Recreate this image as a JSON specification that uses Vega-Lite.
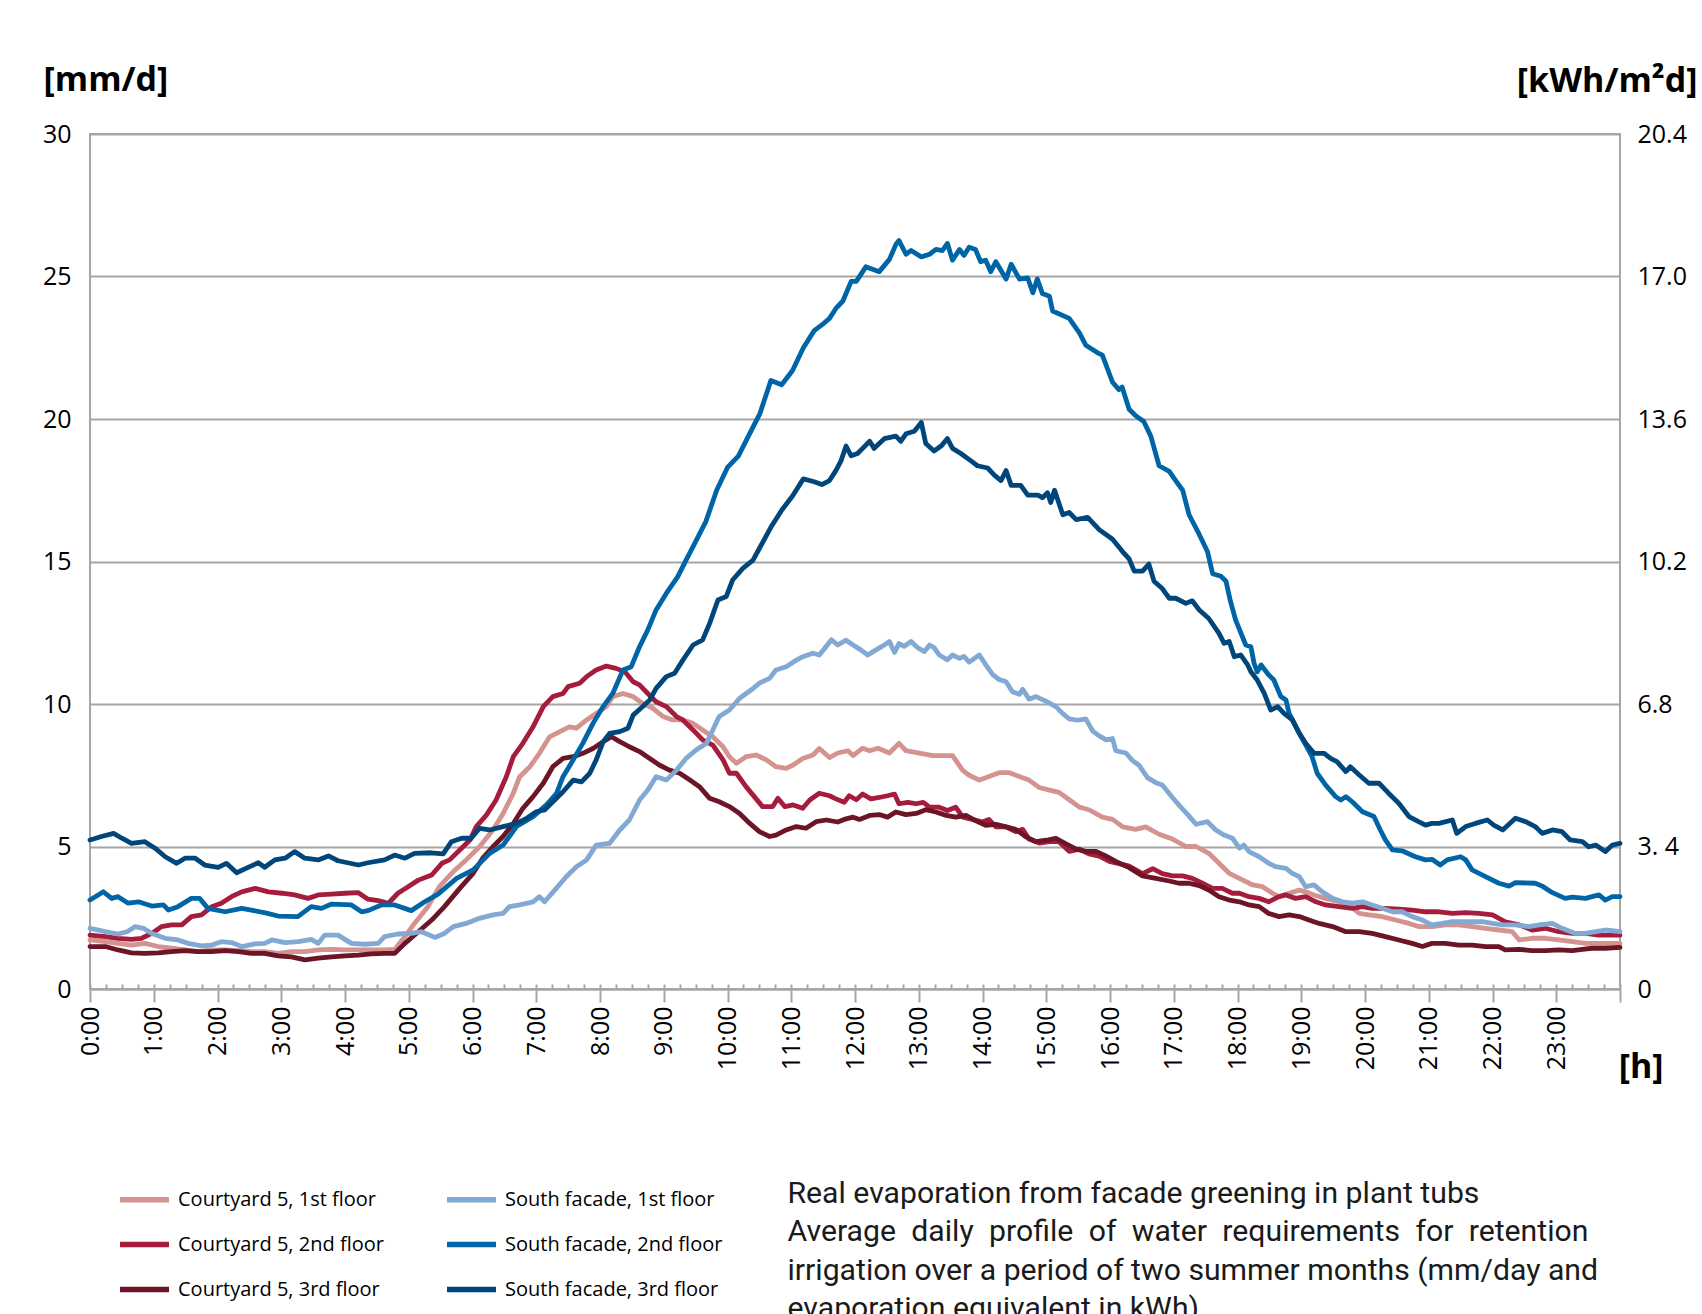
{
"$schema": "https://vega.github.io/schema/vega-lite/v6.json",
"width": 1530, "height": 855,
"autosize": {"type": "none"},
"padding": {"left": 90, "top": 134, "right": 82, "bottom": 325},
"background": "white",
"config": {
  "view": {"stroke": "#a6a6a6", "strokeWidth": 2},
  "axis": {"labelFont": "Open Sans", "labelColor": "#000", "labelFontSize": 25, "titleColor": "#000", "titleFont": "Open Sans", "domainColor": "#a6a6a6", "domainWidth": 2, "tickColor": "#a6a6a6", "tickWidth": 2, "gridColor": "#a6a6a6", "gridWidth": 2}
},
"data": {"values": [
{"s":"C1","t":0,"v":1.72},{"s":"C1","t":0.24,"v":1.66},{"s":"C1","t":0.44,"v":1.6},{"s":"C1","t":0.65,"v":1.54},{"s":"C1","t":0.86,"v":1.6},{"s":"C1","t":1.07,"v":1.49},{"s":"C1","t":1.28,"v":1.43},{"s":"C1","t":1.49,"v":1.37},{"s":"C1","t":1.7,"v":1.31},{"s":"C1","t":1.91,"v":1.37},{"s":"C1","t":2.12,"v":1.37},{"s":"C1","t":2.33,"v":1.35},{"s":"C1","t":2.53,"v":1.31},{"s":"C1","t":2.74,"v":1.31},{"s":"C1","t":2.95,"v":1.25},{"s":"C1","t":3.16,"v":1.31},{"s":"C1","t":3.37,"v":1.31},{"s":"C1","t":3.58,"v":1.37},{"s":"C1","t":3.79,"v":1.39},{"s":"C1","t":4.0,"v":1.37},{"s":"C1","t":4.21,"v":1.37},{"s":"C1","t":4.41,"v":1.37},{"s":"C1","t":4.62,"v":1.37},{"s":"C1","t":4.78,"v":1.39},{"s":"C1","t":4.94,"v":1.84},{"s":"C1","t":5.09,"v":2.3},{"s":"C1","t":5.3,"v":2.89},{"s":"C1","t":5.49,"v":3.62},{"s":"C1","t":5.7,"v":4.12},{"s":"C1","t":5.9,"v":4.53},{"s":"C1","t":6.11,"v":4.99},{"s":"C1","t":6.32,"v":5.58},{"s":"C1","t":6.48,"v":6.16},{"s":"C1","t":6.64,"v":6.87},{"s":"C1","t":6.74,"v":7.45},{"s":"C1","t":6.9,"v":7.8},{"s":"C1","t":7.05,"v":8.27},{"s":"C1","t":7.21,"v":8.85},{"s":"C1","t":7.37,"v":9.03},{"s":"C1","t":7.52,"v":9.2},{"s":"C1","t":7.63,"v":9.15},{"s":"C1","t":7.79,"v":9.44},{"s":"C1","t":7.94,"v":9.67},{"s":"C1","t":8.1,"v":9.91},{"s":"C1","t":8.2,"v":10.26},{"s":"C1","t":8.36,"v":10.37},{"s":"C1","t":8.52,"v":10.26},{"s":"C1","t":8.67,"v":10.02},{"s":"C1","t":8.83,"v":9.85},{"s":"C1","t":8.99,"v":9.56},{"s":"C1","t":9.14,"v":9.44},{"s":"C1","t":9.3,"v":9.44},{"s":"C1","t":9.46,"v":9.32},{"s":"C1","t":9.61,"v":9.09},{"s":"C1","t":9.77,"v":8.85},{"s":"C1","t":9.93,"v":8.5},{"s":"C1","t":10.03,"v":8.15},{"s":"C1","t":10.14,"v":7.92},{"s":"C1","t":10.29,"v":8.15},{"s":"C1","t":10.45,"v":8.21},{"s":"C1","t":10.61,"v":8.04},{"s":"C1","t":10.76,"v":7.8},{"s":"C1","t":10.92,"v":7.74},{"s":"C1","t":11.03,"v":7.86},{"s":"C1","t":11.18,"v":8.09},{"s":"C1","t":11.34,"v":8.21},{"s":"C1","t":11.44,"v":8.44},{"s":"C1","t":11.6,"v":8.12},{"s":"C1","t":11.73,"v":8.28},{"s":"C1","t":11.89,"v":8.36},{"s":"C1","t":11.97,"v":8.19},{"s":"C1","t":12.12,"v":8.45},{"s":"C1","t":12.23,"v":8.36},{"s":"C1","t":12.36,"v":8.45},{"s":"C1","t":12.54,"v":8.28},{"s":"C1","t":12.69,"v":8.62},{"s":"C1","t":12.8,"v":8.36},{"s":"C1","t":13.01,"v":8.28},{"s":"C1","t":13.22,"v":8.19},{"s":"C1","t":13.37,"v":8.19},{"s":"C1","t":13.53,"v":8.19},{"s":"C1","t":13.69,"v":7.67},{"s":"C1","t":13.79,"v":7.5},{"s":"C1","t":13.95,"v":7.33},{"s":"C1","t":14.05,"v":7.41},{"s":"C1","t":14.26,"v":7.59},{"s":"C1","t":14.42,"v":7.59},{"s":"C1","t":14.63,"v":7.41},{"s":"C1","t":14.73,"v":7.33},{"s":"C1","t":14.89,"v":7.07},{"s":"C1","t":15.05,"v":6.98},{"s":"C1","t":15.2,"v":6.9},{"s":"C1","t":15.36,"v":6.64},{"s":"C1","t":15.52,"v":6.38},{"s":"C1","t":15.67,"v":6.29},{"s":"C1","t":15.88,"v":6.03},{"s":"C1","t":16.04,"v":5.95},{"s":"C1","t":16.2,"v":5.69},{"s":"C1","t":16.4,"v":5.6},{"s":"C1","t":16.56,"v":5.69},{"s":"C1","t":16.77,"v":5.43},{"s":"C1","t":16.98,"v":5.26},{"s":"C1","t":17.19,"v":5.0},{"s":"C1","t":17.35,"v":5.0},{"s":"C1","t":17.55,"v":4.76},{"s":"C1","t":17.71,"v":4.41},{"s":"C1","t":17.87,"v":4.06},{"s":"C1","t":18.03,"v":3.88},{"s":"C1","t":18.24,"v":3.65},{"s":"C1","t":18.39,"v":3.59},{"s":"C1","t":18.55,"v":3.36},{"s":"C1","t":18.65,"v":3.24},{"s":"C1","t":18.81,"v":3.36},{"s":"C1","t":18.97,"v":3.47},{"s":"C1","t":19.07,"v":3.41},{"s":"C1","t":19.2,"v":3.3},{"s":"C1","t":19.38,"v":3.18},{"s":"C1","t":19.59,"v":3.06},{"s":"C1","t":19.75,"v":2.95},{"s":"C1","t":19.91,"v":2.65},{"s":"C1","t":20.06,"v":2.6},{"s":"C1","t":20.27,"v":2.54},{"s":"C1","t":20.48,"v":2.42},{"s":"C1","t":20.69,"v":2.3},{"s":"C1","t":20.84,"v":2.19},{"s":"C1","t":21.05,"v":2.19},{"s":"C1","t":21.26,"v":2.25},{"s":"C1","t":21.47,"v":2.25},{"s":"C1","t":21.68,"v":2.19},{"s":"C1","t":21.89,"v":2.13},{"s":"C1","t":22.1,"v":2.07},{"s":"C1","t":22.31,"v":2.01},{"s":"C1","t":22.42,"v":1.72},{"s":"C1","t":22.62,"v":1.78},{"s":"C1","t":22.83,"v":1.78},{"s":"C1","t":23.04,"v":1.72},{"s":"C1","t":23.25,"v":1.66},{"s":"C1","t":23.46,"v":1.6},{"s":"C1","t":23.67,"v":1.6},{"s":"C1","t":24,"v":1.6},
{"s":"C2","t":0,"v":1.89},{"s":"C2","t":0.24,"v":1.84},{"s":"C2","t":0.44,"v":1.78},{"s":"C2","t":0.65,"v":1.74},{"s":"C2","t":0.81,"v":1.78},{"s":"C2","t":0.97,"v":1.95},{"s":"C2","t":1.12,"v":2.19},{"s":"C2","t":1.28,"v":2.25},{"s":"C2","t":1.44,"v":2.25},{"s":"C2","t":1.59,"v":2.54},{"s":"C2","t":1.75,"v":2.6},{"s":"C2","t":1.91,"v":2.89},{"s":"C2","t":2.06,"v":3.01},{"s":"C2","t":2.22,"v":3.24},{"s":"C2","t":2.38,"v":3.41},{"s":"C2","t":2.59,"v":3.53},{"s":"C2","t":2.8,"v":3.41},{"s":"C2","t":3.01,"v":3.36},{"s":"C2","t":3.21,"v":3.3},{"s":"C2","t":3.42,"v":3.18},{"s":"C2","t":3.58,"v":3.3},{"s":"C2","t":3.79,"v":3.33},{"s":"C2","t":4.0,"v":3.36},{"s":"C2","t":4.21,"v":3.38},{"s":"C2","t":4.36,"v":3.15},{"s":"C2","t":4.52,"v":3.1},{"s":"C2","t":4.68,"v":3.01},{"s":"C2","t":4.83,"v":3.36},{"s":"C2","t":4.99,"v":3.59},{"s":"C2","t":5.15,"v":3.82},{"s":"C2","t":5.36,"v":4.0},{"s":"C2","t":5.52,"v":4.41},{"s":"C2","t":5.64,"v":4.53},{"s":"C2","t":5.8,"v":4.88},{"s":"C2","t":5.96,"v":5.23},{"s":"C2","t":6.06,"v":5.7},{"s":"C2","t":6.22,"v":6.11},{"s":"C2","t":6.37,"v":6.63},{"s":"C2","t":6.53,"v":7.45},{"s":"C2","t":6.64,"v":8.15},{"s":"C2","t":6.79,"v":8.62},{"s":"C2","t":6.95,"v":9.2},{"s":"C2","t":7.11,"v":9.91},{"s":"C2","t":7.26,"v":10.26},{"s":"C2","t":7.42,"v":10.37},{"s":"C2","t":7.5,"v":10.61},{"s":"C2","t":7.68,"v":10.73},{"s":"C2","t":7.79,"v":10.96},{"s":"C2","t":7.94,"v":11.19},{"s":"C2","t":8.1,"v":11.33},{"s":"C2","t":8.25,"v":11.25},{"s":"C2","t":8.39,"v":11.13},{"s":"C2","t":8.52,"v":10.78},{"s":"C2","t":8.62,"v":10.67},{"s":"C2","t":8.75,"v":10.37},{"s":"C2","t":8.88,"v":10.08},{"s":"C2","t":9.04,"v":9.91},{"s":"C2","t":9.2,"v":9.56},{"s":"C2","t":9.3,"v":9.44},{"s":"C2","t":9.46,"v":9.09},{"s":"C2","t":9.61,"v":8.74},{"s":"C2","t":9.77,"v":8.56},{"s":"C2","t":9.93,"v":8.04},{"s":"C2","t":10.03,"v":7.57},{"s":"C2","t":10.14,"v":7.57},{"s":"C2","t":10.29,"v":7.1},{"s":"C2","t":10.42,"v":6.75},{"s":"C2","t":10.55,"v":6.4},{"s":"C2","t":10.71,"v":6.4},{"s":"C2","t":10.79,"v":6.69},{"s":"C2","t":10.9,"v":6.4},{"s":"C2","t":11.03,"v":6.46},{"s":"C2","t":11.18,"v":6.34},{"s":"C2","t":11.29,"v":6.63},{"s":"C2","t":11.44,"v":6.87},{"s":"C2","t":11.6,"v":6.78},{"s":"C2","t":11.7,"v":6.67},{"s":"C2","t":11.83,"v":6.55},{"s":"C2","t":11.91,"v":6.78},{"s":"C2","t":12.02,"v":6.64},{"s":"C2","t":12.12,"v":6.84},{"s":"C2","t":12.25,"v":6.67},{"s":"C2","t":12.38,"v":6.72},{"s":"C2","t":12.51,"v":6.78},{"s":"C2","t":12.62,"v":6.84},{"s":"C2","t":12.69,"v":6.5},{"s":"C2","t":12.83,"v":6.55},{"s":"C2","t":12.96,"v":6.5},{"s":"C2","t":13.07,"v":6.55},{"s":"C2","t":13.17,"v":6.38},{"s":"C2","t":13.32,"v":6.38},{"s":"C2","t":13.45,"v":6.26},{"s":"C2","t":13.58,"v":6.38},{"s":"C2","t":13.69,"v":6.03},{"s":"C2","t":13.84,"v":5.95},{"s":"C2","t":14.0,"v":5.86},{"s":"C2","t":14.1,"v":5.95},{"s":"C2","t":14.21,"v":5.69},{"s":"C2","t":14.37,"v":5.69},{"s":"C2","t":14.52,"v":5.52},{"s":"C2","t":14.63,"v":5.6},{"s":"C2","t":14.73,"v":5.26},{"s":"C2","t":14.89,"v":5.12},{"s":"C2","t":15.05,"v":5.17},{"s":"C2","t":15.2,"v":5.17},{"s":"C2","t":15.36,"v":4.83},{"s":"C2","t":15.52,"v":4.91},{"s":"C2","t":15.67,"v":4.74},{"s":"C2","t":15.83,"v":4.66},{"s":"C2","t":15.99,"v":4.48},{"s":"C2","t":16.14,"v":4.4},{"s":"C2","t":16.3,"v":4.31},{"s":"C2","t":16.51,"v":4.05},{"s":"C2","t":16.67,"v":4.22},{"s":"C2","t":16.82,"v":4.05},{"s":"C2","t":16.98,"v":3.97},{"s":"C2","t":17.14,"v":3.97},{"s":"C2","t":17.29,"v":3.88},{"s":"C2","t":17.45,"v":3.71},{"s":"C2","t":17.61,"v":3.53},{"s":"C2","t":17.76,"v":3.53},{"s":"C2","t":17.92,"v":3.36},{"s":"C2","t":18.03,"v":3.36},{"s":"C2","t":18.18,"v":3.24},{"s":"C2","t":18.34,"v":3.18},{"s":"C2","t":18.49,"v":3.06},{"s":"C2","t":18.65,"v":3.24},{"s":"C2","t":18.76,"v":3.3},{"s":"C2","t":18.91,"v":3.18},{"s":"C2","t":19.07,"v":3.24},{"s":"C2","t":19.23,"v":3.06},{"s":"C2","t":19.38,"v":2.95},{"s":"C2","t":19.59,"v":2.89},{"s":"C2","t":19.8,"v":2.83},{"s":"C2","t":19.96,"v":2.89},{"s":"C2","t":20.11,"v":2.83},{"s":"C2","t":20.32,"v":2.83},{"s":"C2","t":20.53,"v":2.8},{"s":"C2","t":20.74,"v":2.77},{"s":"C2","t":20.95,"v":2.71},{"s":"C2","t":21.16,"v":2.71},{"s":"C2","t":21.37,"v":2.65},{"s":"C2","t":21.58,"v":2.68},{"s":"C2","t":21.79,"v":2.65},{"s":"C2","t":22.0,"v":2.6},{"s":"C2","t":22.2,"v":2.36},{"s":"C2","t":22.42,"v":2.25},{"s":"C2","t":22.62,"v":2.07},{"s":"C2","t":22.83,"v":2.13},{"s":"C2","t":23.04,"v":2.01},{"s":"C2","t":23.25,"v":1.95},{"s":"C2","t":23.46,"v":1.95},{"s":"C2","t":23.67,"v":1.89},{"s":"C2","t":24,"v":1.89},
{"s":"C3","t":0,"v":1.49},{"s":"C3","t":0.24,"v":1.49},{"s":"C3","t":0.44,"v":1.37},{"s":"C3","t":0.65,"v":1.27},{"s":"C3","t":0.86,"v":1.25},{"s":"C3","t":1.07,"v":1.27},{"s":"C3","t":1.28,"v":1.31},{"s":"C3","t":1.49,"v":1.35},{"s":"C3","t":1.7,"v":1.31},{"s":"C3","t":1.91,"v":1.31},{"s":"C3","t":2.12,"v":1.35},{"s":"C3","t":2.33,"v":1.31},{"s":"C3","t":2.53,"v":1.25},{"s":"C3","t":2.74,"v":1.25},{"s":"C3","t":2.95,"v":1.16},{"s":"C3","t":3.16,"v":1.13},{"s":"C3","t":3.37,"v":1.02},{"s":"C3","t":3.58,"v":1.08},{"s":"C3","t":3.79,"v":1.13},{"s":"C3","t":4.0,"v":1.16},{"s":"C3","t":4.21,"v":1.19},{"s":"C3","t":4.41,"v":1.23},{"s":"C3","t":4.62,"v":1.25},{"s":"C3","t":4.78,"v":1.25},{"s":"C3","t":4.94,"v":1.6},{"s":"C3","t":5.15,"v":2.01},{"s":"C3","t":5.36,"v":2.42},{"s":"C3","t":5.56,"v":2.89},{"s":"C3","t":5.8,"v":3.53},{"s":"C3","t":6.01,"v":4.06},{"s":"C3","t":6.16,"v":4.59},{"s":"C3","t":6.32,"v":4.99},{"s":"C3","t":6.48,"v":5.35},{"s":"C3","t":6.64,"v":5.81},{"s":"C3","t":6.79,"v":6.34},{"s":"C3","t":6.95,"v":6.75},{"s":"C3","t":7.11,"v":7.22},{"s":"C3","t":7.26,"v":7.8},{"s":"C3","t":7.42,"v":8.09},{"s":"C3","t":7.58,"v":8.15},{"s":"C3","t":7.73,"v":8.27},{"s":"C3","t":7.89,"v":8.44},{"s":"C3","t":8.05,"v":8.68},{"s":"C3","t":8.18,"v":8.85},{"s":"C3","t":8.31,"v":8.68},{"s":"C3","t":8.46,"v":8.5},{"s":"C3","t":8.62,"v":8.33},{"s":"C3","t":8.78,"v":8.09},{"s":"C3","t":8.93,"v":7.86},{"s":"C3","t":9.09,"v":7.68},{"s":"C3","t":9.25,"v":7.57},{"s":"C3","t":9.41,"v":7.33},{"s":"C3","t":9.56,"v":7.1},{"s":"C3","t":9.72,"v":6.69},{"s":"C3","t":9.87,"v":6.57},{"s":"C3","t":10.03,"v":6.4},{"s":"C3","t":10.19,"v":6.16},{"s":"C3","t":10.35,"v":5.81},{"s":"C3","t":10.5,"v":5.52},{"s":"C3","t":10.66,"v":5.35},{"s":"C3","t":10.76,"v":5.4},{"s":"C3","t":10.92,"v":5.58},{"s":"C3","t":11.08,"v":5.7},{"s":"C3","t":11.23,"v":5.64},{"s":"C3","t":11.39,"v":5.87},{"s":"C3","t":11.55,"v":5.93},{"s":"C3","t":11.73,"v":5.86},{"s":"C3","t":11.83,"v":5.95},{"s":"C3","t":11.97,"v":6.03},{"s":"C3","t":12.07,"v":5.95},{"s":"C3","t":12.23,"v":6.09},{"s":"C3","t":12.38,"v":6.12},{"s":"C3","t":12.51,"v":6.03},{"s":"C3","t":12.64,"v":6.21},{"s":"C3","t":12.8,"v":6.12},{"s":"C3","t":12.96,"v":6.16},{"s":"C3","t":13.11,"v":6.29},{"s":"C3","t":13.27,"v":6.21},{"s":"C3","t":13.43,"v":6.09},{"s":"C3","t":13.58,"v":6.03},{"s":"C3","t":13.74,"v":6.09},{"s":"C3","t":13.89,"v":5.91},{"s":"C3","t":14.05,"v":5.74},{"s":"C3","t":14.21,"v":5.78},{"s":"C3","t":14.37,"v":5.69},{"s":"C3","t":14.52,"v":5.6},{"s":"C3","t":14.68,"v":5.34},{"s":"C3","t":14.84,"v":5.17},{"s":"C3","t":15.0,"v":5.22},{"s":"C3","t":15.15,"v":5.29},{"s":"C3","t":15.31,"v":5.09},{"s":"C3","t":15.47,"v":4.91},{"s":"C3","t":15.62,"v":4.83},{"s":"C3","t":15.78,"v":4.83},{"s":"C3","t":15.94,"v":4.66},{"s":"C3","t":16.09,"v":4.48},{"s":"C3","t":16.3,"v":4.26},{"s":"C3","t":16.51,"v":3.97},{"s":"C3","t":16.72,"v":3.88},{"s":"C3","t":16.93,"v":3.79},{"s":"C3","t":17.08,"v":3.71},{"s":"C3","t":17.24,"v":3.71},{"s":"C3","t":17.4,"v":3.63},{"s":"C3","t":17.55,"v":3.47},{"s":"C3","t":17.71,"v":3.24},{"s":"C3","t":17.87,"v":3.12},{"s":"C3","t":18.03,"v":3.06},{"s":"C3","t":18.18,"v":2.95},{"s":"C3","t":18.34,"v":2.89},{"s":"C3","t":18.49,"v":2.65},{"s":"C3","t":18.65,"v":2.54},{"s":"C3","t":18.81,"v":2.6},{"s":"C3","t":18.97,"v":2.54},{"s":"C3","t":19.12,"v":2.42},{"s":"C3","t":19.28,"v":2.3},{"s":"C3","t":19.49,"v":2.19},{"s":"C3","t":19.7,"v":2.01},{"s":"C3","t":19.91,"v":2.01},{"s":"C3","t":20.11,"v":1.95},{"s":"C3","t":20.32,"v":1.84},{"s":"C3","t":20.53,"v":1.72},{"s":"C3","t":20.74,"v":1.6},{"s":"C3","t":20.9,"v":1.49},{"s":"C3","t":21.05,"v":1.6},{"s":"C3","t":21.26,"v":1.6},{"s":"C3","t":21.47,"v":1.54},{"s":"C3","t":21.68,"v":1.54},{"s":"C3","t":21.89,"v":1.49},{"s":"C3","t":22.1,"v":1.49},{"s":"C3","t":22.2,"v":1.37},{"s":"C3","t":22.42,"v":1.39},{"s":"C3","t":22.62,"v":1.35},{"s":"C3","t":22.83,"v":1.35},{"s":"C3","t":23.04,"v":1.37},{"s":"C3","t":23.25,"v":1.35},{"s":"C3","t":23.41,"v":1.39},{"s":"C3","t":23.56,"v":1.43},{"s":"C3","t":23.77,"v":1.43},{"s":"C3","t":24,"v":1.46},
{"s":"S1","t":0,"v":2.13},{"s":"S1","t":0.24,"v":2.01},{"s":"S1","t":0.44,"v":1.93},{"s":"S1","t":0.58,"v":2.01},{"s":"S1","t":0.71,"v":2.19},{"s":"S1","t":0.84,"v":2.13},{"s":"S1","t":0.97,"v":1.95},{"s":"S1","t":1.18,"v":1.78},{"s":"S1","t":1.38,"v":1.72},{"s":"S1","t":1.54,"v":1.6},{"s":"S1","t":1.75,"v":1.51},{"s":"S1","t":1.91,"v":1.54},{"s":"S1","t":2.06,"v":1.66},{"s":"S1","t":2.22,"v":1.63},{"s":"S1","t":2.38,"v":1.49},{"s":"S1","t":2.59,"v":1.58},{"s":"S1","t":2.74,"v":1.6},{"s":"S1","t":2.85,"v":1.72},{"s":"S1","t":3.06,"v":1.63},{"s":"S1","t":3.27,"v":1.66},{"s":"S1","t":3.47,"v":1.74},{"s":"S1","t":3.58,"v":1.6},{"s":"S1","t":3.68,"v":1.89},{"s":"S1","t":3.89,"v":1.89},{"s":"S1","t":4.1,"v":1.6},{"s":"S1","t":4.31,"v":1.57},{"s":"S1","t":4.52,"v":1.6},{"s":"S1","t":4.62,"v":1.84},{"s":"S1","t":4.83,"v":1.93},{"s":"S1","t":5.04,"v":1.95},{"s":"S1","t":5.2,"v":2.01},{"s":"S1","t":5.41,"v":1.81},{"s":"S1","t":5.56,"v":1.95},{"s":"S1","t":5.7,"v":2.19},{"s":"S1","t":5.9,"v":2.3},{"s":"S1","t":6.11,"v":2.48},{"s":"S1","t":6.32,"v":2.6},{"s":"S1","t":6.48,"v":2.65},{"s":"S1","t":6.58,"v":2.89},{"s":"S1","t":6.74,"v":2.95},{"s":"S1","t":6.95,"v":3.06},{"s":"S1","t":7.05,"v":3.24},{"s":"S1","t":7.13,"v":3.06},{"s":"S1","t":7.29,"v":3.47},{"s":"S1","t":7.47,"v":3.94},{"s":"S1","t":7.63,"v":4.29},{"s":"S1","t":7.79,"v":4.53},{"s":"S1","t":7.94,"v":5.05},{"s":"S1","t":8.15,"v":5.11},{"s":"S1","t":8.31,"v":5.58},{"s":"S1","t":8.46,"v":5.93},{"s":"S1","t":8.62,"v":6.63},{"s":"S1","t":8.75,"v":6.98},{"s":"S1","t":8.88,"v":7.45},{"s":"S1","t":9.04,"v":7.33},{"s":"S1","t":9.2,"v":7.68},{"s":"S1","t":9.35,"v":8.09},{"s":"S1","t":9.51,"v":8.39},{"s":"S1","t":9.67,"v":8.62},{"s":"S1","t":9.87,"v":9.56},{"s":"S1","t":10.03,"v":9.79},{"s":"S1","t":10.19,"v":10.2},{"s":"S1","t":10.37,"v":10.49},{"s":"S1","t":10.5,"v":10.73},{"s":"S1","t":10.66,"v":10.9},{"s":"S1","t":10.76,"v":11.19},{"s":"S1","t":10.92,"v":11.31},{"s":"S1","t":11.08,"v":11.54},{"s":"S1","t":11.18,"v":11.66},{"s":"S1","t":11.34,"v":11.78},{"s":"S1","t":11.44,"v":11.72},{"s":"S1","t":11.63,"v":12.25},{"s":"S1","t":11.73,"v":12.07},{"s":"S1","t":11.86,"v":12.24},{"s":"S1","t":11.97,"v":12.07},{"s":"S1","t":12.09,"v":11.9},{"s":"S1","t":12.2,"v":11.72},{"s":"S1","t":12.33,"v":11.9},{"s":"S1","t":12.46,"v":12.07},{"s":"S1","t":12.54,"v":12.19},{"s":"S1","t":12.62,"v":11.81},{"s":"S1","t":12.69,"v":12.12},{"s":"S1","t":12.77,"v":12.02},{"s":"S1","t":12.88,"v":12.19},{"s":"S1","t":12.98,"v":11.98},{"s":"S1","t":13.09,"v":11.84},{"s":"S1","t":13.17,"v":12.07},{"s":"S1","t":13.24,"v":11.98},{"s":"S1","t":13.32,"v":11.72},{"s":"S1","t":13.45,"v":11.55},{"s":"S1","t":13.53,"v":11.72},{"s":"S1","t":13.64,"v":11.6},{"s":"S1","t":13.71,"v":11.67},{"s":"S1","t":13.79,"v":11.47},{"s":"S1","t":13.95,"v":11.72},{"s":"S1","t":14.05,"v":11.38},{"s":"S1","t":14.16,"v":11.03},{"s":"S1","t":14.26,"v":10.86},{"s":"S1","t":14.37,"v":10.78},{"s":"S1","t":14.47,"v":10.43},{"s":"S1","t":14.58,"v":10.34},{"s":"S1","t":14.63,"v":10.52},{"s":"S1","t":14.73,"v":10.17},{"s":"S1","t":14.84,"v":10.26},{"s":"S1","t":15.0,"v":10.09},{"s":"S1","t":15.15,"v":9.91},{"s":"S1","t":15.26,"v":9.66},{"s":"S1","t":15.36,"v":9.48},{"s":"S1","t":15.49,"v":9.43},{"s":"S1","t":15.62,"v":9.48},{"s":"S1","t":15.73,"v":9.05},{"s":"S1","t":15.83,"v":8.88},{"s":"S1","t":15.94,"v":8.74},{"s":"S1","t":16.04,"v":8.79},{"s":"S1","t":16.09,"v":8.36},{"s":"S1","t":16.25,"v":8.28},{"s":"S1","t":16.35,"v":8.02},{"s":"S1","t":16.46,"v":7.84},{"s":"S1","t":16.59,"v":7.41},{"s":"S1","t":16.72,"v":7.24},{"s":"S1","t":16.82,"v":7.16},{"s":"S1","t":16.98,"v":6.72},{"s":"S1","t":17.11,"v":6.38},{"s":"S1","t":17.22,"v":6.12},{"s":"S1","t":17.35,"v":5.78},{"s":"S1","t":17.53,"v":5.87},{"s":"S1","t":17.66,"v":5.58},{"s":"S1","t":17.79,"v":5.4},{"s":"S1","t":17.92,"v":5.29},{"s":"S1","t":18.03,"v":4.94},{"s":"S1","t":18.1,"v":5.05},{"s":"S1","t":18.18,"v":4.82},{"s":"S1","t":18.34,"v":4.64},{"s":"S1","t":18.49,"v":4.41},{"s":"S1","t":18.6,"v":4.29},{"s":"S1","t":18.76,"v":4.23},{"s":"S1","t":18.86,"v":4.06},{"s":"S1","t":18.97,"v":3.94},{"s":"S1","t":19.07,"v":3.59},{"s":"S1","t":19.2,"v":3.65},{"s":"S1","t":19.33,"v":3.41},{"s":"S1","t":19.49,"v":3.18},{"s":"S1","t":19.65,"v":3.06},{"s":"S1","t":19.8,"v":3.01},{"s":"S1","t":19.96,"v":3.06},{"s":"S1","t":20.11,"v":2.95},{"s":"S1","t":20.27,"v":2.83},{"s":"S1","t":20.43,"v":2.71},{"s":"S1","t":20.58,"v":2.71},{"s":"S1","t":20.74,"v":2.54},{"s":"S1","t":20.9,"v":2.42},{"s":"S1","t":21.05,"v":2.25},{"s":"S1","t":21.21,"v":2.3},{"s":"S1","t":21.37,"v":2.36},{"s":"S1","t":21.58,"v":2.36},{"s":"S1","t":21.84,"v":2.36},{"s":"S1","t":22.0,"v":2.3},{"s":"S1","t":22.16,"v":2.25},{"s":"S1","t":22.36,"v":2.25},{"s":"S1","t":22.57,"v":2.19},{"s":"S1","t":22.73,"v":2.25},{"s":"S1","t":22.94,"v":2.3},{"s":"S1","t":23.09,"v":2.13},{"s":"S1","t":23.3,"v":1.95},{"s":"S1","t":23.46,"v":1.95},{"s":"S1","t":23.62,"v":2.01},{"s":"S1","t":23.77,"v":2.07},{"s":"S1","t":24,"v":2.01},
{"s":"S2","t":0,"v":3.12},{"s":"S2","t":0.21,"v":3.41},{"s":"S2","t":0.34,"v":3.18},{"s":"S2","t":0.44,"v":3.24},{"s":"S2","t":0.6,"v":3.01},{"s":"S2","t":0.76,"v":3.06},{"s":"S2","t":0.97,"v":2.91},{"s":"S2","t":1.15,"v":2.95},{"s":"S2","t":1.23,"v":2.77},{"s":"S2","t":1.38,"v":2.89},{"s":"S2","t":1.59,"v":3.18},{"s":"S2","t":1.72,"v":3.18},{"s":"S2","t":1.85,"v":2.83},{"s":"S2","t":2.12,"v":2.71},{"s":"S2","t":2.38,"v":2.83},{"s":"S2","t":2.53,"v":2.77},{"s":"S2","t":2.77,"v":2.66},{"s":"S2","t":2.95,"v":2.56},{"s":"S2","t":3.26,"v":2.54},{"s":"S2","t":3.47,"v":2.89},{"s":"S2","t":3.63,"v":2.83},{"s":"S2","t":3.79,"v":2.98},{"s":"S2","t":4.1,"v":2.95},{"s":"S2","t":4.26,"v":2.71},{"s":"S2","t":4.36,"v":2.75},{"s":"S2","t":4.57,"v":2.95},{"s":"S2","t":4.78,"v":2.95},{"s":"S2","t":5.04,"v":2.75},{"s":"S2","t":5.25,"v":3.06},{"s":"S2","t":5.46,"v":3.33},{"s":"S2","t":5.75,"v":3.88},{"s":"S2","t":6.01,"v":4.18},{"s":"S2","t":6.27,"v":4.76},{"s":"S2","t":6.48,"v":5.05},{"s":"S2","t":6.69,"v":5.7},{"s":"S2","t":6.95,"v":6.05},{"s":"S2","t":7.16,"v":6.46},{"s":"S2","t":7.32,"v":6.87},{"s":"S2","t":7.42,"v":7.45},{"s":"S2","t":7.58,"v":8.04},{"s":"S2","t":7.73,"v":8.62},{"s":"S2","t":7.89,"v":9.32},{"s":"S2","t":8.05,"v":9.91},{"s":"S2","t":8.2,"v":10.37},{"s":"S2","t":8.36,"v":11.19},{"s":"S2","t":8.49,"v":11.31},{"s":"S2","t":8.62,"v":12.01},{"s":"S2","t":8.75,"v":12.6},{"s":"S2","t":8.88,"v":13.3},{"s":"S2","t":9.04,"v":13.88},{"s":"S2","t":9.22,"v":14.47},{"s":"S2","t":9.35,"v":15.05},{"s":"S2","t":9.5,"v":15.7},{"s":"S2","t":9.66,"v":16.4},{"s":"S2","t":9.83,"v":17.5},{"s":"S2","t":10.0,"v":18.3},{"s":"S2","t":10.17,"v":18.7},{"s":"S2","t":10.34,"v":19.45},{"s":"S2","t":10.51,"v":20.2},{"s":"S2","t":10.68,"v":21.35},{"s":"S2","t":10.85,"v":21.2},{"s":"S2","t":11.02,"v":21.7},{"s":"S2","t":11.19,"v":22.5},{"s":"S2","t":11.36,"v":23.1},{"s":"S2","t":11.48,"v":23.3},{"s":"S2","t":11.6,"v":23.53},{"s":"S2","t":11.7,"v":23.88},{"s":"S2","t":11.81,"v":24.14},{"s":"S2","t":11.94,"v":24.83},{"s":"S2","t":12.02,"v":24.83},{"s":"S2","t":12.17,"v":25.34},{"s":"S2","t":12.38,"v":25.17},{"s":"S2","t":12.54,"v":25.6},{"s":"S2","t":12.64,"v":26.12},{"s":"S2","t":12.69,"v":26.26},{"s":"S2","t":12.8,"v":25.78},{"s":"S2","t":12.88,"v":25.91},{"s":"S2","t":13.04,"v":25.69},{"s":"S2","t":13.17,"v":25.78},{"s":"S2","t":13.27,"v":25.95},{"s":"S2","t":13.37,"v":25.91},{"s":"S2","t":13.45,"v":26.16},{"s":"S2","t":13.53,"v":25.57},{"s":"S2","t":13.64,"v":25.95},{"s":"S2","t":13.71,"v":25.74},{"s":"S2","t":13.79,"v":26.03},{"s":"S2","t":13.89,"v":25.95},{"s":"S2","t":13.97,"v":25.52},{"s":"S2","t":14.05,"v":25.57},{"s":"S2","t":14.13,"v":25.17},{"s":"S2","t":14.21,"v":25.52},{"s":"S2","t":14.37,"v":24.91},{"s":"S2","t":14.45,"v":25.43},{"s":"S2","t":14.58,"v":24.91},{"s":"S2","t":14.71,"v":24.95},{"s":"S2","t":14.79,"v":24.43},{"s":"S2","t":14.86,"v":24.91},{"s":"S2","t":14.94,"v":24.4},{"s":"S2","t":15.05,"v":24.31},{"s":"S2","t":15.1,"v":23.79},{"s":"S2","t":15.36,"v":23.53},{"s":"S2","t":15.52,"v":23.02},{"s":"S2","t":15.62,"v":22.59},{"s":"S2","t":15.8,"v":22.33},{"s":"S2","t":15.88,"v":22.24},{"s":"S2","t":16.04,"v":21.29},{"s":"S2","t":16.14,"v":21.03},{"s":"S2","t":16.19,"v":21.12},{"s":"S2","t":16.3,"v":20.34},{"s":"S2","t":16.4,"v":20.12},{"s":"S2","t":16.53,"v":19.91},{"s":"S2","t":16.64,"v":19.4},{"s":"S2","t":16.77,"v":18.36},{"s":"S2","t":16.93,"v":18.16},{"s":"S2","t":17.03,"v":17.84},{"s":"S2","t":17.14,"v":17.5},{"s":"S2","t":17.24,"v":16.64},{"s":"S2","t":17.4,"v":15.95},{"s":"S2","t":17.53,"v":15.34},{"s":"S2","t":17.61,"v":14.57},{"s":"S2","t":17.74,"v":14.48},{"s":"S2","t":17.82,"v":14.31},{"s":"S2","t":17.89,"v":13.6},{"s":"S2","t":17.97,"v":12.95},{"s":"S2","t":18.13,"v":12.07},{"s":"S2","t":18.21,"v":12.01},{"s":"S2","t":18.26,"v":11.43},{"s":"S2","t":18.31,"v":11.13},{"s":"S2","t":18.37,"v":11.37},{"s":"S2","t":18.49,"v":11.02},{"s":"S2","t":18.57,"v":10.84},{"s":"S2","t":18.68,"v":10.26},{"s":"S2","t":18.76,"v":10.14},{"s":"S2","t":18.81,"v":9.67},{"s":"S2","t":18.97,"v":8.97},{"s":"S2","t":19.17,"v":8.15},{"s":"S2","t":19.25,"v":7.57},{"s":"S2","t":19.38,"v":7.16},{"s":"S2","t":19.54,"v":6.75},{"s":"S2","t":19.62,"v":6.63},{"s":"S2","t":19.7,"v":6.75},{"s":"S2","t":19.8,"v":6.57},{"s":"S2","t":19.96,"v":6.22},{"s":"S2","t":20.14,"v":6.05},{"s":"S2","t":20.24,"v":5.58},{"s":"S2","t":20.32,"v":5.23},{"s":"S2","t":20.43,"v":4.88},{"s":"S2","t":20.58,"v":4.85},{"s":"S2","t":20.79,"v":4.64},{"s":"S2","t":20.95,"v":4.53},{"s":"S2","t":21.05,"v":4.55},{"s":"S2","t":21.18,"v":4.35},{"s":"S2","t":21.29,"v":4.53},{"s":"S2","t":21.5,"v":4.64},{"s":"S2","t":21.58,"v":4.53},{"s":"S2","t":21.68,"v":4.18},{"s":"S2","t":21.89,"v":3.94},{"s":"S2","t":22.1,"v":3.71},{"s":"S2","t":22.26,"v":3.61},{"s":"S2","t":22.36,"v":3.73},{"s":"S2","t":22.67,"v":3.71},{"s":"S2","t":22.78,"v":3.61},{"s":"S2","t":22.94,"v":3.38},{"s":"S2","t":23.14,"v":3.18},{"s":"S2","t":23.25,"v":3.22},{"s":"S2","t":23.46,"v":3.18},{"s":"S2","t":23.56,"v":3.24},{"s":"S2","t":23.67,"v":3.3},{"s":"S2","t":23.77,"v":3.12},{"s":"S2","t":23.88,"v":3.24},{"s":"S2","t":24,"v":3.24},
{"s":"S3","t":0,"v":5.23},{"s":"S3","t":0.18,"v":5.35},{"s":"S3","t":0.37,"v":5.46},{"s":"S3","t":0.5,"v":5.29},{"s":"S3","t":0.65,"v":5.11},{"s":"S3","t":0.86,"v":5.17},{"s":"S3","t":1.02,"v":4.94},{"s":"S3","t":1.18,"v":4.64},{"s":"S3","t":1.36,"v":4.41},{"s":"S3","t":1.49,"v":4.59},{"s":"S3","t":1.65,"v":4.59},{"s":"S3","t":1.8,"v":4.35},{"s":"S3","t":2.01,"v":4.27},{"s":"S3","t":2.14,"v":4.41},{"s":"S3","t":2.3,"v":4.08},{"s":"S3","t":2.48,"v":4.27},{"s":"S3","t":2.64,"v":4.43},{"s":"S3","t":2.74,"v":4.27},{"s":"S3","t":2.9,"v":4.53},{"s":"S3","t":3.06,"v":4.59},{"s":"S3","t":3.21,"v":4.82},{"s":"S3","t":3.37,"v":4.59},{"s":"S3","t":3.58,"v":4.53},{"s":"S3","t":3.74,"v":4.67},{"s":"S3","t":3.89,"v":4.5},{"s":"S3","t":4.21,"v":4.35},{"s":"S3","t":4.36,"v":4.43},{"s":"S3","t":4.62,"v":4.53},{"s":"S3","t":4.78,"v":4.7},{"s":"S3","t":4.94,"v":4.59},{"s":"S3","t":5.09,"v":4.76},{"s":"S3","t":5.35,"v":4.78},{"s":"S3","t":5.54,"v":4.74},{"s":"S3","t":5.67,"v":5.17},{"s":"S3","t":5.83,"v":5.29},{"s":"S3","t":5.98,"v":5.29},{"s":"S3","t":6.11,"v":5.64},{"s":"S3","t":6.27,"v":5.58},{"s":"S3","t":6.48,"v":5.7},{"s":"S3","t":6.69,"v":5.81},{"s":"S3","t":6.85,"v":5.99},{"s":"S3","t":7.0,"v":6.22},{"s":"S3","t":7.13,"v":6.28},{"s":"S3","t":7.26,"v":6.57},{"s":"S3","t":7.42,"v":6.92},{"s":"S3","t":7.58,"v":7.33},{"s":"S3","t":7.71,"v":7.27},{"s":"S3","t":7.84,"v":7.57},{"s":"S3","t":7.94,"v":8.04},{"s":"S3","t":8.05,"v":8.68},{"s":"S3","t":8.15,"v":8.97},{"s":"S3","t":8.31,"v":9.03},{"s":"S3","t":8.44,"v":9.15},{"s":"S3","t":8.52,"v":9.61},{"s":"S3","t":8.67,"v":9.91},{"s":"S3","t":8.78,"v":10.14},{"s":"S3","t":8.88,"v":10.55},{"s":"S3","t":9.04,"v":10.96},{"s":"S3","t":9.17,"v":11.08},{"s":"S3","t":9.3,"v":11.54},{"s":"S3","t":9.46,"v":12.07},{"s":"S3","t":9.61,"v":12.25},{"s":"S3","t":9.72,"v":12.83},{"s":"S3","t":9.85,"v":13.65},{"s":"S3","t":9.98,"v":13.77},{"s":"S3","t":10.08,"v":14.35},{"s":"S3","t":10.24,"v":14.76},{"s":"S3","t":10.4,"v":15.05},{"s":"S3","t":10.51,"v":15.5},{"s":"S3","t":10.68,"v":16.2},{"s":"S3","t":10.85,"v":16.8},{"s":"S3","t":11.02,"v":17.3},{"s":"S3","t":11.19,"v":17.9},{"s":"S3","t":11.36,"v":17.8},{"s":"S3","t":11.48,"v":17.7},{"s":"S3","t":11.6,"v":17.84},{"s":"S3","t":11.7,"v":18.19},{"s":"S3","t":11.78,"v":18.53},{"s":"S3","t":11.86,"v":19.05},{"s":"S3","t":11.94,"v":18.71},{"s":"S3","t":12.04,"v":18.79},{"s":"S3","t":12.12,"v":18.97},{"s":"S3","t":12.23,"v":19.22},{"s":"S3","t":12.3,"v":18.97},{"s":"S3","t":12.46,"v":19.31},{"s":"S3","t":12.64,"v":19.4},{"s":"S3","t":12.72,"v":19.22},{"s":"S3","t":12.8,"v":19.48},{"s":"S3","t":12.93,"v":19.57},{"s":"S3","t":13.04,"v":19.88},{"s":"S3","t":13.11,"v":19.14},{"s":"S3","t":13.24,"v":18.88},{"s":"S3","t":13.35,"v":19.05},{"s":"S3","t":13.45,"v":19.31},{"s":"S3","t":13.53,"v":18.97},{"s":"S3","t":13.66,"v":18.79},{"s":"S3","t":13.82,"v":18.53},{"s":"S3","t":13.92,"v":18.36},{"s":"S3","t":14.08,"v":18.28},{"s":"S3","t":14.19,"v":18.02},{"s":"S3","t":14.29,"v":17.84},{"s":"S3","t":14.37,"v":18.19},{"s":"S3","t":14.45,"v":17.67},{"s":"S3","t":14.6,"v":17.67},{"s":"S3","t":14.71,"v":17.33},{"s":"S3","t":14.87,"v":17.33},{"s":"S3","t":14.94,"v":17.24},{"s":"S3","t":15.02,"v":17.41},{"s":"S3","t":15.07,"v":17.07},{"s":"S3","t":15.13,"v":17.5},{"s":"S3","t":15.26,"v":16.64},{"s":"S3","t":15.36,"v":16.72},{"s":"S3","t":15.47,"v":16.47},{"s":"S3","t":15.65,"v":16.55},{"s":"S3","t":15.83,"v":16.12},{"s":"S3","t":16.04,"v":15.78},{"s":"S3","t":16.2,"v":15.34},{"s":"S3","t":16.3,"v":15.09},{"s":"S3","t":16.38,"v":14.66},{"s":"S3","t":16.51,"v":14.66},{"s":"S3","t":16.61,"v":14.91},{"s":"S3","t":16.69,"v":14.31},{"s":"S3","t":16.82,"v":14.05},{"s":"S3","t":16.93,"v":13.71},{"s":"S3","t":17.03,"v":13.71},{"s":"S3","t":17.19,"v":13.53},{"s":"S3","t":17.29,"v":13.62},{"s":"S3","t":17.4,"v":13.3},{"s":"S3","t":17.55,"v":13.0},{"s":"S3","t":17.71,"v":12.48},{"s":"S3","t":17.79,"v":12.13},{"s":"S3","t":17.87,"v":12.19},{"s":"S3","t":17.95,"v":11.66},{"s":"S3","t":18.05,"v":11.72},{"s":"S3","t":18.16,"v":11.37},{"s":"S3","t":18.21,"v":11.13},{"s":"S3","t":18.31,"v":10.84},{"s":"S3","t":18.42,"v":10.37},{"s":"S3","t":18.52,"v":9.79},{"s":"S3","t":18.63,"v":9.91},{"s":"S3","t":18.73,"v":9.67},{"s":"S3","t":18.86,"v":9.44},{"s":"S3","t":18.97,"v":8.97},{"s":"S3","t":19.07,"v":8.62},{"s":"S3","t":19.2,"v":8.27},{"s":"S3","t":19.36,"v":8.27},{"s":"S3","t":19.46,"v":8.09},{"s":"S3","t":19.56,"v":7.98},{"s":"S3","t":19.7,"v":7.63},{"s":"S3","t":19.77,"v":7.8},{"s":"S3","t":19.91,"v":7.51},{"s":"S3","t":20.06,"v":7.22},{"s":"S3","t":20.22,"v":7.22},{"s":"S3","t":20.37,"v":6.87},{"s":"S3","t":20.53,"v":6.52},{"s":"S3","t":20.69,"v":6.05},{"s":"S3","t":20.84,"v":5.87},{"s":"S3","t":20.95,"v":5.75},{"s":"S3","t":21.05,"v":5.81},{"s":"S3","t":21.16,"v":5.81},{"s":"S3","t":21.37,"v":5.93},{"s":"S3","t":21.44,"v":5.46},{"s":"S3","t":21.58,"v":5.7},{"s":"S3","t":21.73,"v":5.81},{"s":"S3","t":21.92,"v":5.93},{"s":"S3","t":22.02,"v":5.75},{"s":"S3","t":22.16,"v":5.58},{"s":"S3","t":22.36,"v":5.99},{"s":"S3","t":22.52,"v":5.87},{"s":"S3","t":22.67,"v":5.7},{"s":"S3","t":22.78,"v":5.46},{"s":"S3","t":22.94,"v":5.58},{"s":"S3","t":23.09,"v":5.52},{"s":"S3","t":23.22,"v":5.23},{"s":"S3","t":23.41,"v":5.17},{"s":"S3","t":23.51,"v":4.99},{"s":"S3","t":23.62,"v":5.05},{"s":"S3","t":23.77,"v":4.82},{"s":"S3","t":23.88,"v":5.05},{"s":"S3","t":24,"v":5.11}
]},
"layer": [
  {
    "mark": {"type": "line", "strokeWidth": 4.8, "strokeJoin": "round", "strokeCap": "round"},
    "encoding": {
      "x": {"field": "t", "type": "quantitative",
        "scale": {"domain": [0, 24], "nice": false, "zero": false},
        "axis": {"orient": "bottom", "values": [0,1,2,3,4,5,6,7,8,9,10,11,12,13,14,15,16,17,18,19,20,21,22,23,24],
          "labelExpr": "datum.value < 24 ? datum.value + ':00' : ''",
          "labelAngle": -90, "labelPadding": 4, "tickSize": 13, "grid": false, "domain": true,
          "title": "[h]", "titleFontWeight": "bold", "titleFontSize": 34, "titleAngle": 0,
          "titleX": 1573, "titleY": 88, "titleAlign": "right", "titleBaseline": "alphabetic"}},
      "y": {"field": "v", "type": "quantitative",
        "scale": {"domain": [0, 30], "nice": false},
        "axis": {"orient": "left", "values": [0,5,10,15,20,25,30], "grid": true, "ticks": false, "tickSize": 0, "domain": false,
          "labelPadding": 19, "title": "[mm/d]", "titleFontWeight": "bold", "titleFontSize": 34, "titleAngle": 0,
          "titleX": -47, "titleY": -44, "titleAlign": "left", "titleBaseline": "alphabetic"}},
      "color": {"field": "s", "type": "nominal",
        "scale": {"domain": ["C1","C2","C3","S1","S2","S3"], "range": ["#d4938f","#a61c3c","#6b1526","#81a9d4","#0065a7","#00467a"]},
        "legend": {"orient": "none", "legendX": 27, "legendY": 1038, "columns": 2, "title": null,
          "symbolType": "stroke", "symbolSize": 2400, "symbolStrokeWidth": 5.5,
          "labelFont": "Open Sans", "labelFontSize": 20, "labelColor": "#000", "labelOffset": 6,
          "columnPadding": 52, "rowPadding": 6, "padding": 0, "labelLimit": 400,
          "labelExpr": "datum.label == 'C1' ? 'Courtyard 5, 1st floor' : datum.label == 'C2' ? 'Courtyard 5, 2nd floor' : datum.label == 'C3' ? 'Courtyard 5, 3rd floor' : datum.label == 'S1' ? 'South facade, 1st floor' : datum.label == 'S2' ? 'South facade, 2nd floor' : 'South facade, 3rd floor'"}}
    }
  },
  {
    "data": {"values": []},
    "mark": {"type": "point"},
    "encoding": {
      "x": {"field": "t", "type": "quantitative",
        "scale": {"domain": [0, 24], "nice": false, "zero": false},
        "axis": {"orient": "bottom", "values": [0,0.25,0.5,0.75,1,1.25,1.5,1.75,2,2.25,2.5,2.75,3,3.25,3.5,3.75,4,4.25,4.5,4.75,5,5.25,5.5,5.75,6,6.25,6.5,6.75,7,7.25,7.5,7.75,8,8.25,8.5,8.75,9,9.25,9.5,9.75,10,10.25,10.5,10.75,11,11.25,11.5,11.75,12,12.25,12.5,12.75,13,13.25,13.5,13.75,14,14.25,14.5,14.75,15,15.25,15.5,15.75,16,16.25,16.5,16.75,17,17.25,17.5,17.75,18,18.25,18.5,18.75,19,19.25,19.5,19.75,20,20.25,20.5,20.75,21,21.25,21.5,21.75,22,22.25,22.5,22.75,23,23.25,23.5,23.75,24],
          "labels": false, "domain": false, "grid": false, "tickSize": -5, "offset": 0,
          "title": ["Real evaporation from facade greening in plant tubs", "Average\u2002daily\u2002profile\u2002of\u2002water\u2002requirements\u2002for\u2002retention", "irrigation over a period of two summer months (mm/day and", "evaporation equivalent in kWh)"],
          "titleFont": "Roboto", "titleFontSize": 30.2, "titleFontWeight": "normal", "titleColor": "#1a1a1a",
          "titleAngle": 0, "titleAlign": "left", "titleBaseline": "alphabetic", "titleLineHeight": 38.5,
          "titleX": 697, "titleY": 213}},
      "y": {"field": "v", "type": "quantitative",
        "scale": {"domain": [0, 30], "nice": false},
        "axis": {"orient": "right", "values": [0,5,10,15,20,25,30],
          "labelExpr": "datum.value == 0 ? '0' : datum.value == 5 ? '3. 4' : format(datum.value * 0.68, '.1f')",
          "grid": false, "ticks": false, "tickSize": 0, "domain": false, "labelPadding": 17,
          "title": "[kWh/m²d]", "titleFontWeight": "bold", "titleFontSize": 34, "titleAngle": 0,
          "titleX": 77, "titleY": -43, "titleAlign": "right", "titleBaseline": "alphabetic"}}
    }
  }
],
"resolve": {"axis": {"x": "independent", "y": "independent"}}
}
